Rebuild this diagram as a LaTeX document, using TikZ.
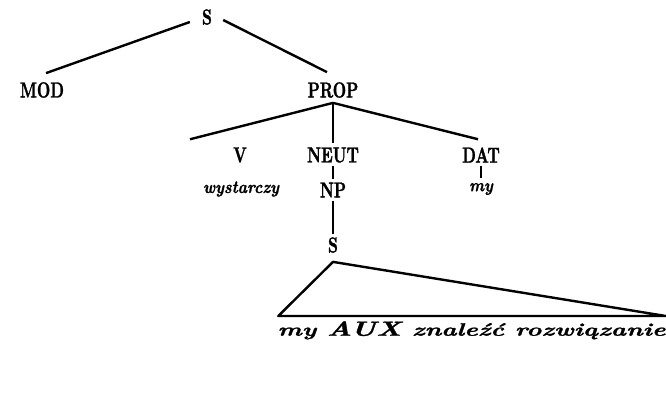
\documentclass[tikz,border=0pt]{standalone}
\usepackage{graphicx}
\usepackage{fontspec}
\usepackage{tikz}
\usetikzlibrary{positioning}

% heavy printed labels
\newfontfamily\catfont{lmroman10-bold}[Extension=.otf, FakeBold=1.6]
\newfontfamily\wdfont{lmroman10-bolditalic}[Extension=.otf, FakeBold=1.2]
% condensed-looking labels: stretch the letters upwards
\newcommand{\tallcat}[1]{\scalebox{1}[1.4]{#1}}
\newcommand{\tallwd}[1]{\scalebox{1.05}[1.2]{#1}}

\begin{document}
\begin{tikzpicture}[x=1pt, y=-1pt,
  cat/.style={font=\fontsize{15.5}{18}\catfont, inner sep=3pt},
  word/.style={font=\fontsize{15}{18}\wdfont, inner sep=3pt},
  br/.style={line width=2.4pt}]
\useasboundingbox (0,0) rectangle (666,396);
\node[cat] (s) at (207,17) {\tallcat{S}};
\node[cat] (mod) at (42,90) {\tallcat{MOD}};
\node[cat] (prop) at (333,90) {\tallcat{PROP}};
\node[cat] (v) at (240,155) {\tallcat{V}};
\node[cat] (neut) at (333,155) {\tallcat{NEUT}};
\node[cat] (dat) at (481,155) {\tallcat{DAT}};
\node[word] (wyst) at (241,189) {\tallwd{wystarczy}};
\node[cat] (np) at (333,190) {\tallcat{NP}};
\node[word] (my) at (481,189) {\tallwd{my}};
\node[cat] (s2) at (333,245) {\tallcat{S}};
\node[word, anchor=north, inner xsep=0pt, inner ysep=5pt] (phr) at (471.5,316)
  {\resizebox{388pt}{1.2\height}{my \fontsize{17}{18}\selectfont AUX\fontsize{15}{18}\selectfont{} znaleźć rozwiązanie}};
\draw[br] ([xshift=-9pt,yshift=-5pt]s.west) -- ([xshift=4pt,yshift=6pt]mod.north);
\draw[br] ([xshift=8pt,yshift=-3pt]s.east) -- ([xshift=-6pt,yshift=7pt]prop.north);
\draw[br] ([yshift=-2pt]prop.south) -- ([xshift=-50pt,yshift=5pt]v.north);
\draw[br] ([yshift=-2pt]prop.south) -- ([yshift=1pt]neut.north);
\draw[br] ([yshift=-2pt]prop.south) -- ([xshift=-3pt,yshift=5pt]dat.north);
\draw[br] (neut.south) -- (np.north);
\draw[br] (dat.south) -- ([yshift=2pt]my.north);
\draw[br] (np.south) -- (s2.north);
\draw[br, line join=round] ([yshift=-6pt]s2.south) -- ([xshift=1pt]phr.north west) -- (phr.north east) -- cycle;
\end{tikzpicture}
\end{document}
